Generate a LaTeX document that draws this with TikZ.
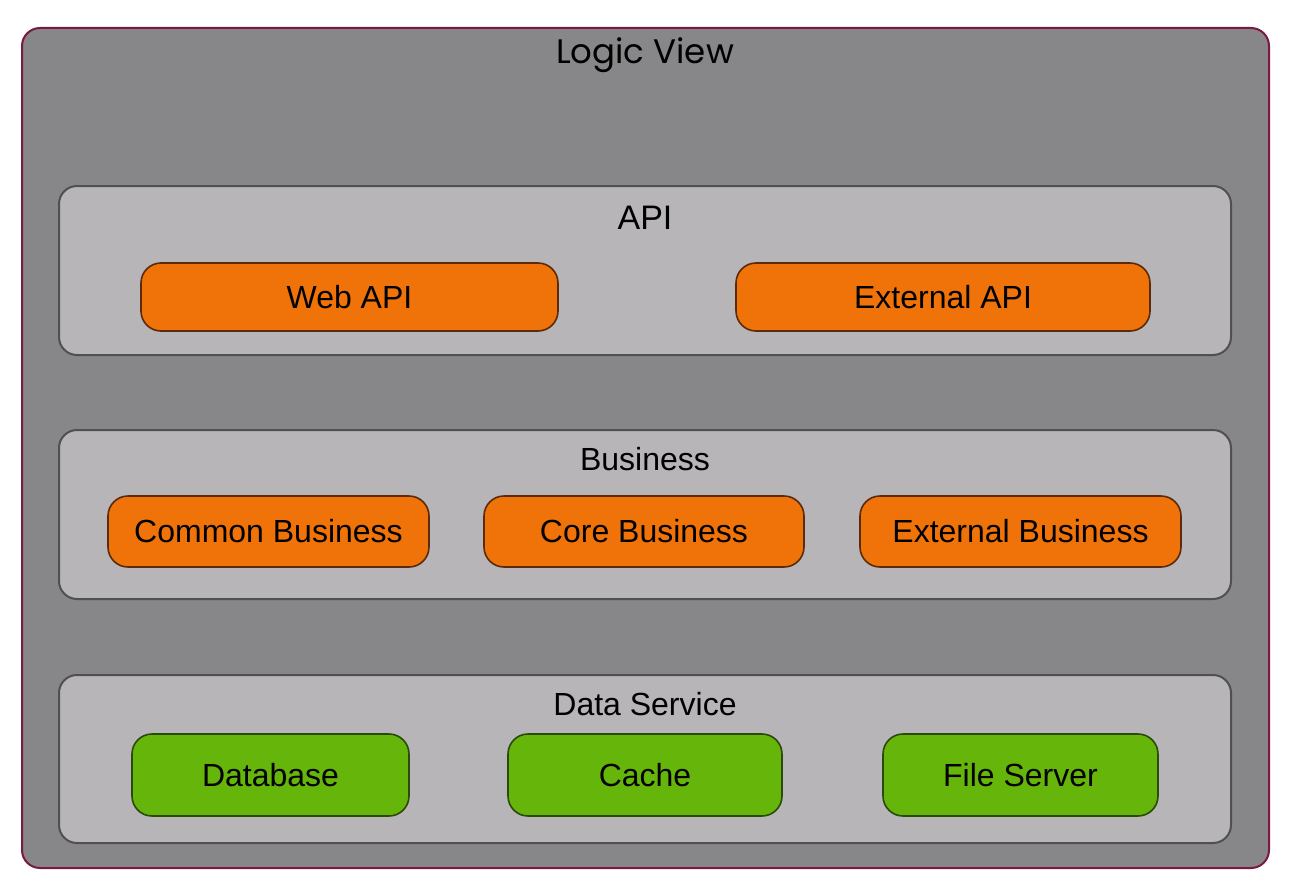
\documentclass[tikz,border=0pt]{standalone}
\usepackage{fontspec}
\setmainfont{Liberation Sans}
\newfontfamily\titlefont{Poppins}
\definecolor{outerfill}{HTML}{878688}
\definecolor{outerline}{HTML}{7A1A40}
\definecolor{panelfill}{HTML}{B7B5B8}
\definecolor{panelline}{HTML}{505050}
\definecolor{orangefill}{HTML}{F07309}
\definecolor{orangeline}{HTML}{5A2A0A}
\definecolor{greenfill}{HTML}{66B50A}
\definecolor{greenline}{HTML}{2A4A0A}
\tikzset{
  outerbox/.style={draw=outerline, fill=outerfill, line width=2pt, rounded corners=18pt},
  panel/.style={draw=panelline, fill=panelfill, line width=2pt, rounded corners=18pt},
  orangebox/.style={draw=orangeline, fill=orangefill, line width=1.6pt, rounded corners=20pt},
  greenbox/.style={draw=greenline, fill=greenfill, line width=1.6pt, rounded corners=20pt},
  boxtext/.style={font=\fontsize{32}{36}\selectfont, text=black},
}
\begin{document}
\begin{tikzpicture}[x=1pt,y=-1pt]
\useasboundingbox (0,0) rectangle (1297,891);
\fill[white] (0,0) rectangle (1297,891);
% outer
\draw[outerbox] (22,28) rectangle (1269,868);
\node[font=\titlefont\fontsize{34}{38}\selectfont] (title) at (645,55) {Logic View};
% API panel
\draw[panel] (59,186) rectangle (1231,355);
\node[font=\fontsize{34}{38}\selectfont] (api) at (645,218) {API};
\draw[orangebox] (141,263) rectangle (558,331);
\node[boxtext] (webapi) at (349.5,297) {Web API};
\draw[orangebox] (736,263) rectangle (1150,331);
\node[boxtext] (extapi) at (943,297) {External API};
% Business panel
\draw[panel] (59,430) rectangle (1231,599);
\node[boxtext] (business) at (645,459) {Business};
\draw[orangebox] (108,496) rectangle (429,567);
\node[boxtext] (common) at (268.5,531.5) {Common Business};
\draw[orangebox] (484,496) rectangle (804,567);
\node[boxtext] (core) at (644,531.5) {Core Business};
\draw[orangebox] (860,496) rectangle (1181,567);
\node[boxtext] (extbiz) at (1020.5,531.5) {External Business};
% Data Service panel
\draw[panel] (59,675) rectangle (1231,843);
\node[boxtext] (data) at (645,704) {Data Service};
\draw[greenbox] (132,734) rectangle (409,816);
\node[boxtext] (db) at (270.5,775) {Database};
\draw[greenbox] (508,734) rectangle (782,816);
\node[boxtext] (cache) at (645,775) {Cache};
\draw[greenbox] (883,734) rectangle (1158,816);
\node[boxtext] (fs) at (1020.5,775) {File Server};
\end{tikzpicture}
\end{document}
